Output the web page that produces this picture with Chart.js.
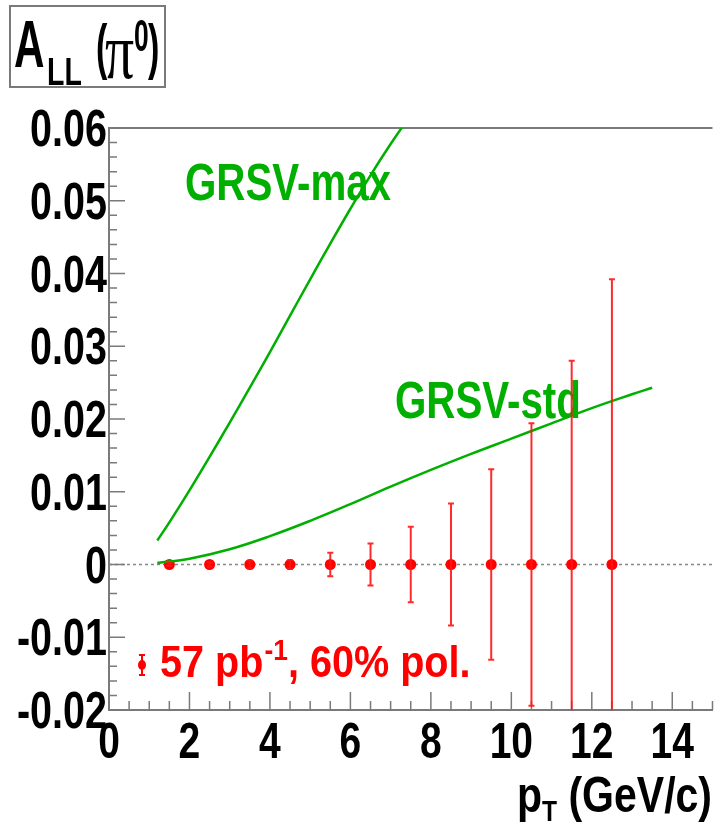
<!DOCTYPE html>
<html>
<head>
<meta charset="utf-8">
<script src="https://cdn.jsdelivr.net/npm/chart.js@4.4.1/dist/chart.umd.min.js"></script>
<style>
  html, body { margin: 0; padding: 0; background: #fff; overflow: hidden; }
  #wrap { width: 718px; height: 826px; }
</style>
</head>
<body>
<div id="wrap"><canvas id="allChart" width="718" height="826"></canvas></div>
<script>
// projected A_LL points (pT bin centres, values, stat. errors)
var ptBins = [1.5, 2.5, 3.5, 4.5, 5.5, 6.5, 7.5, 8.5, 9.5, 10.5, 11.5, 12.5];
var allValues = [0, 0, 0, 0, 0, 0, 0, 0, 0, 0, 0, 0];
var allErrors = [0.0002, 0.0003, 0.0005, 0.0006, 0.0016, 0.0029, 0.0052, 0.0084, 0.0131, 0.0194, 0.028, 0.0392];

// theory curves
var grsvMaxPt = [1.2, 1.5, 2, 2.5, 3, 3.5, 4, 4.5, 5, 5.5, 6, 6.5, 7, 7.5];
var grsvMaxVal = [0.0033, 0.0058, 0.0102, 0.0148, 0.0195, 0.0243, 0.0292, 0.0342, 0.0392, 0.0441, 0.0489, 0.0535, 0.0578, 0.0618];
var grsvStdPt = [1.2, 2, 3, 4, 5, 6, 7, 8, 9, 10, 11, 12, 13, 13.5];
var grsvStdVal = [0.0002, 0.0008, 0.0021, 0.0039, 0.006, 0.0083, 0.0107, 0.013, 0.0152, 0.0173, 0.0194, 0.0215, 0.0234, 0.0243];

var xTicks = [0, 2, 4, 6, 8, 10, 12, 14];
var yTicks = [-0.02, -0.01, 0, 0.01, 0.02, 0.03, 0.04, 0.05, 0.06];

var FONT = "'Liberation Sans', Arial, sans-serif";
var GREEN = 'rgb(0,175,0)';
var RED = 'rgb(255,0,0)';
var GREY = '#7a7a7a';

function pairs(xs, ys) {
    return xs.map(function (x, i) { return { x: x, y: ys[i] }; });
}

// ROOT plots use a tall, narrow helvetica: squeeze the text horizontally
function txt(ctx, s, x, y, size, color, sx, align, font) {
    ctx.save();
    ctx.font = font || ('bold ' + size + 'px ' + FONT);
    ctx.fillStyle = color;
    var w = ctx.measureText(s).width * sx;
    if (align === 'right') x -= w;
    if (align === 'center') x -= w / 2;
    ctx.translate(x, y);
    ctx.scale(sx, 1);
    ctx.fillText(s, 0, 0);
    ctx.restore();
    return x + w;
}

function fmtY(v) {
    return Math.abs(v) < 1e-9 ? '0' : String(Math.round(v * 100) / 100);
}

var rootStyle = {
    id: 'rootStyle',
    beforeDatasetsDraw: function (chart) {
        var ctx = chart.ctx, a = chart.chartArea;
        var xs = chart.scales.x, ys = chart.scales.y;
        ctx.save();
        ctx.textBaseline = 'alphabetic';
        // zero line
        ctx.strokeStyle = '#888';
        ctx.lineWidth = 1.5;
        ctx.setLineDash([3, 3]);
        ctx.beginPath();
        ctx.moveTo(a.left, ys.getPixelForValue(0));
        ctx.lineTo(a.right, ys.getPixelForValue(0));
        ctx.stroke();
        ctx.setLineDash([]);
        // frame top
        ctx.strokeStyle = GREY;
        ctx.lineWidth = 2;
        ctx.beginPath();
        ctx.moveTo(a.left, a.top);
        ctx.lineTo(a.right, a.top);
        ctx.stroke();
        // inward tick marks
        ctx.lineWidth = 1.5;
        ctx.beginPath();
        var i, p;
        for (i = 0; i <= 30; i++) {
            p = xs.getPixelForValue(i * 0.5);
            ctx.moveTo(p, a.bottom);
            ctx.lineTo(p, a.bottom - (i % 4 === 0 ? 18 : 9));
        }
        for (i = 0; i <= 40; i++) {
            p = ys.getPixelForValue(-0.02 + i * 0.002);
            ctx.moveTo(a.left, p);
            ctx.lineTo(a.left + (i % 5 === 0 ? 16 : 8), p);
        }
        ctx.stroke();
        // curve labels
        txt(ctx, 'GRSV-max', 185, 200, 51, GREEN, 0.79);
        txt(ctx, 'GRSV-std', 395, 418, 51, GREEN, 0.79);
        ctx.restore();
    },
    afterDatasetsDraw: function (chart) {
        var ctx = chart.ctx, a = chart.chartArea;
        var xs = chart.scales.x, ys = chart.scales.y;
        ctx.save();
        ctx.beginPath();
        ctx.rect(a.left, a.top, a.right - a.left, a.bottom - a.top);
        ctx.clip();
        ctx.strokeStyle = 'rgba(255,20,20,0.9)';
        ctx.lineWidth = 2;
        ptBins.forEach(function (pt, i) {
            var px = xs.getPixelForValue(pt);
            var top = ys.getPixelForValue(allValues[i] + allErrors[i]);
            var bot = ys.getPixelForValue(allValues[i] - allErrors[i]);
            ctx.beginPath();
            ctx.moveTo(px, top);
            ctx.lineTo(px, bot);
            ctx.moveTo(px - 3, top);
            ctx.lineTo(px + 3, top);
            ctx.moveTo(px - 3, bot);
            ctx.lineTo(px + 3, bot);
            ctx.stroke();
        });
        ctx.restore();
    },
    afterDraw: function (chart) {
        var ctx = chart.ctx, a = chart.chartArea;
        var xs = chart.scales.x, ys = chart.scales.y;
        ctx.save();
        ctx.textBaseline = 'alphabetic';
        // tick labels
        xs.ticks.forEach(function (t) {
            txt(ctx, String(t.value), xs.getPixelForValue(t.value), a.bottom + 48, 50, '#000', 0.78, 'center');
        });
        ys.ticks.forEach(function (t) {
            txt(ctx, fmtY(t.value), a.left - 2, ys.getPixelForValue(t.value) + 18, 52, '#000', 0.76, 'right');
        });
        // legend entry
        ctx.strokeStyle = RED;
        ctx.fillStyle = RED;
        ctx.lineWidth = 2;
        ctx.beginPath();
        ctx.moveTo(142, 655); ctx.lineTo(142, 675);
        ctx.moveTo(139, 655); ctx.lineTo(145, 655);
        ctx.moveTo(139, 675); ctx.lineTo(145, 675);
        ctx.stroke();
        ctx.beginPath();
        ctx.ellipse(142, 665, 4, 5, 0, 0, Math.PI * 2);
        ctx.fill();
        var x = txt(ctx, '57 pb', 160, 677, 45, RED, 0.88);
        x = txt(ctx, '-1', x + 1, 660, 30, RED, 0.88);
        txt(ctx, ', 60% pol.', x, 677, 45, RED, 0.88);
        // x axis title
        x = txt(ctx, 'p', 517, 812, 50, '#000', 0.82);
        x = txt(ctx, 'T', x, 821, 30, '#000', 0.82);
        txt(ctx, ' (GeV/c)', x, 812, 50, '#000', 0.82);
        // y title box
        ctx.strokeStyle = GREY;
        ctx.lineWidth = 2;
        ctx.strokeRect(10, 6, 155, 81);
        txt(ctx, 'A', 14, 67, 66, '#000', 0.64);
        txt(ctx, 'LL', 47, 85, 39, '#000', 0.73);
        txt(ctx, '(', 96, 67, 62, '#000', 0.55);
        txt(ctx, '\u03c0', 105, 78, 80, '#000', 0.72, null, '80px "Liberation Serif", serif');
        txt(ctx, '0', 134, 51, 44, '#000', 0.6);
        txt(ctx, ')', 148, 67, 62, '#000', 0.55);
        ctx.restore();
    }
};

var ctx = document.getElementById('allChart').getContext('2d');
var allChart = new Chart(ctx, {
    type: 'scatter',
    data: {
        datasets: [{
            label: 'GRSV-max',
            type: 'line',
            data: pairs(grsvMaxPt, grsvMaxVal),
            borderColor: GREEN,
            borderWidth: 2.5,
            pointRadius: 0,
            tension: 0.4,
            fill: false
        }, {
            label: 'GRSV-std',
            type: 'line',
            data: pairs(grsvStdPt, grsvStdVal),
            borderColor: GREEN,
            borderWidth: 2.5,
            pointRadius: 0,
            tension: 0.4,
            fill: false
        }, {
            label: '57 pb-1, 60% pol.',
            data: pairs(ptBins, allValues),
            backgroundColor: RED,
            borderColor: RED,
            borderWidth: 0,
            pointRadius: 5.5,
            showLine: false
        }]
    },
    options: {
        responsive: false,
        animation: false,
        layout: { padding: { top: 128, right: 0, left: 0, bottom: 0 } },
        plugins: {
            legend: { display: false },
            tooltip: { enabled: false }
        },
        scales: {
            x: {
                type: 'linear',
                min: 0,
                max: 15,
                afterBuildTicks: function (scale) {
                    scale.ticks = xTicks.map(function (v) { return { value: v }; });
                },
                afterFit: function (scale) { scale.height = 116; },
                grid: { display: true, drawOnChartArea: false, drawTicks: false },
                border: { display: true, color: GREY, width: 2 },
                ticks: { display: false }
            },
            y: {
                min: -0.02,
                max: 0.06,
                afterBuildTicks: function (scale) {
                    scale.ticks = yTicks.map(function (v) { return { value: v }; });
                },
                afterFit: function (scale) { scale.width = 109; },
                grid: { display: true, drawOnChartArea: false, drawTicks: false },
                border: { display: true, color: GREY, width: 2 },
                ticks: { display: false, callback: fmtY }
            }
        }
    },
    plugins: [rootStyle]
});
</script>
</body>
</html>
